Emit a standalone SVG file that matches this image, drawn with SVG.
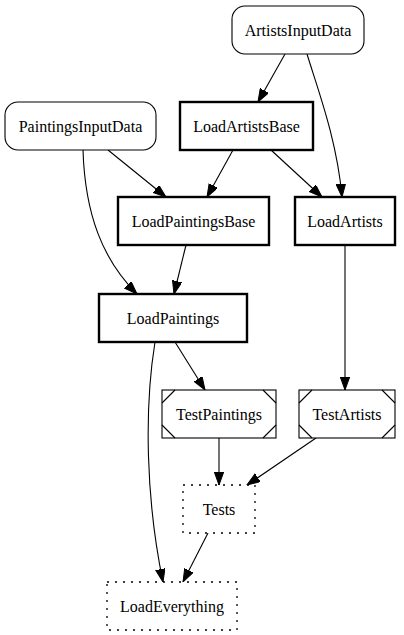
<svg xmlns="http://www.w3.org/2000/svg" width="404" height="635" viewBox="0 0 404 635" font-family="'Liberation Serif', 'Times New Roman', Times, 'DejaVu Serif', serif">
<style>
text{font-family:'Liberation Serif','Times New Roman',Times,'DejaVu Serif',serif;font-size:16px;text-anchor:middle;fill:#000}
.n{fill:#fff;stroke:#000;stroke-width:1.1}
.b{fill:#fff;stroke:#000;stroke-width:2.4}
.d{fill:#fff;stroke:#000;stroke-width:1.3;stroke-dasharray:2,6}
.m{fill:none;stroke:#000;stroke-width:1.1}
.e{fill:none;stroke:#000;stroke-width:1.1;marker-end:url(#ah)}
</style>
<defs>
<marker id="ah" markerUnits="userSpaceOnUse" markerWidth="14" markerHeight="10" refX="13" refY="4.7" orient="auto" viewBox="0 0 14 10">
<path d="M0,0 L13,4.7 L0,9.4 z" fill="#000" stroke="#000" stroke-width="1"/>
</marker>
</defs>
<rect width="404" height="635" fill="#fff"/>
<g id="connectors">
<path class="e" d="M285,54 L258,102"/>
<path class="e" d="M307,54 C318,90 337,140 342,197"/>
<path class="e" d="M108,150 L166,197"/>
<path class="e" d="M83,150 C85,215 103,260 137,294"/>
<path class="e" d="M233,150 L207,197"/>
<path class="e" d="M271,150 L322,197"/>
<path class="e" d="M186,245 L174,294"/>
<path class="e" d="M345,245 L345,390"/>
<path class="e" d="M175,342 L205,390"/>
<path class="e" d="M155,342 C144,410 146,500 163,582"/>
<path class="e" d="M219,438 L219,485"/>
<path class="e" d="M316,438 L247,485"/>
<path class="e" d="M208,533 L183,582"/>
</g>
<g id="ArtistsInputData"><rect class="n" x="232" y="6" width="132" height="48" rx="13"/><text x="298" y="35.5">ArtistsInputData</text></g>
<g id="PaintingsInputData"><rect class="n" x="5" y="102" width="151" height="48" rx="13"/><text x="80.5" y="131.5">PaintingsInputData</text></g>
<g id="LoadArtistsBase"><rect class="b" x="180" y="102" width="133" height="48"/><text x="246.5" y="131.5">LoadArtistsBase</text></g>
<g id="LoadPaintingsBase"><rect class="b" x="118" y="197" width="151" height="48"/><text x="193.5" y="226.5">LoadPaintingsBase</text></g>
<g id="LoadArtists"><rect class="b" x="295" y="197" width="100" height="48"/><text x="345" y="226.5">LoadArtists</text></g>
<g id="LoadPaintings"><rect class="b" x="99" y="294" width="148" height="48"/><text x="173" y="323.5">LoadPaintings</text></g>
<g id="TestPaintings"><rect class="n" x="162" y="390" width="114" height="48"/><path class="m" d="M162,403 L175,390 M263,390 L276,403 M162,425 L175,438 M263,438 L276,425"/><text x="219" y="419.5">TestPaintings</text></g>
<g id="TestArtists"><rect class="n" x="299" y="390" width="96" height="48"/><path class="m" d="M299,403 L312,390 M382,390 L395,403 M299,425 L312,438 M382,438 L395,425"/><text x="347" y="419.5">TestArtists</text></g>
<g id="Tests"><rect class="d" x="183" y="485" width="72" height="48"/><text x="219" y="514.5">Tests</text></g>
<g id="LoadEverything"><rect class="d" x="107" y="582" width="130" height="48"/><text x="172" y="611.5">LoadEverything</text></g>
</svg>
